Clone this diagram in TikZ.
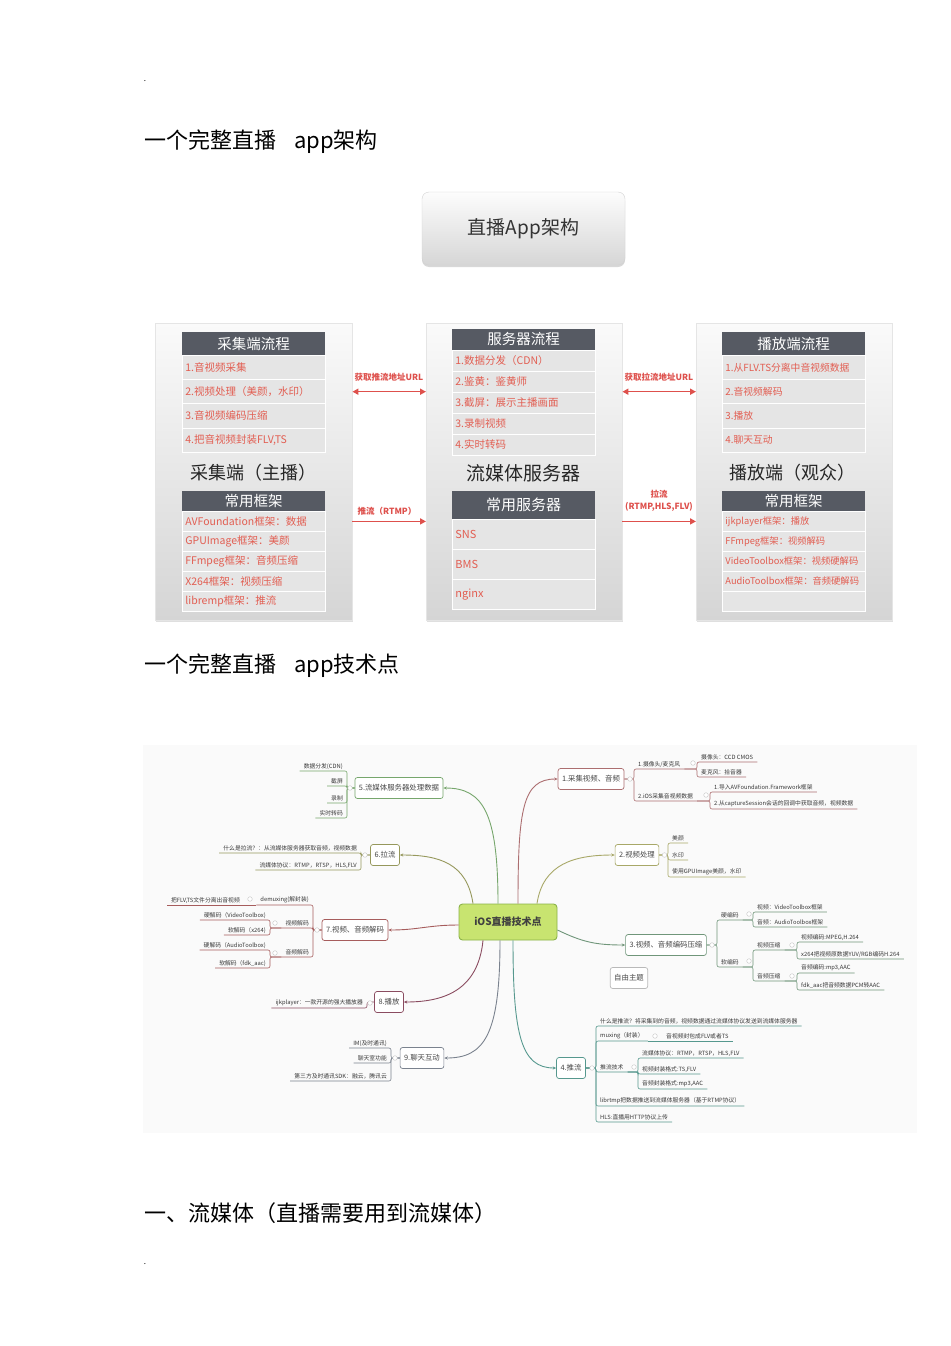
\documentclass[tikz,border=0pt]{standalone}
\usepackage{fontspec}
\setmainfont{Noto Sans CJK SC}
\usetikzlibrary{arrows.meta,calc,shadows}

\definecolor{hdrgray}{RGB}{86,90,99}
\definecolor{rowred}{RGB}{226,94,82}
\definecolor{arrred}{RGB}{222,80,76}
\definecolor{hubfill}{RGB}{200,228,112}
\definecolor{hubline}{RGB}{138,178,72}
\definecolor{cA}{RGB}{172,110,112}
\definecolor{cB}{RGB}{168,168,104}
\definecolor{cC}{RGB}{112,150,122}
\definecolor{cD}{RGB}{86,152,142}
\definecolor{cE}{RGB}{118,166,108}
\definecolor{cF}{RGB}{150,152,92}
\definecolor{cG}{RGB}{166,92,92}
\definecolor{cH}{RGB}{138,76,96}
\definecolor{cI}{RGB}{122,130,142}

\newcommand{\fsz}[1]{\fontsize{#1}{#1}\selectfont}
% rami sottolineati della mappa
\newcommand{\brR}[3]{\draw[#1,rounded corners=2pt] (#2) -- (#3.south west |- #2) -- (#3.south west) -- (#3.south east);}
\newcommand{\brL}[3]{\draw[#1,rounded corners=2pt] (#2) -- (#3.south east |- #2) -- (#3.south east) -- (#3.south west);}
\newcommand{\knob}[1]{\filldraw[draw=gray!45,fill=white,line width=0.4pt] (#1) circle (2.3);}

\tikzset{
  panel/.style={draw=gray!20, top color=gray!4, bottom color=gray!33, anchor=north west,
    drop shadow={opacity=0.25,shadow xshift=1pt,shadow yshift=-1.5pt}},
  hdr/.style={fill=hdrgray, text=white, font=\fsz{14.5}, anchor=north west, minimum width=143pt, inner sep=0pt},
  row/.style={fill=gray!20, draw=white, line width=0.8pt, text=rowred, anchor=north west,
    text width=137pt, align=left, inner xsep=3pt, inner ysep=0pt},
  biglab/.style={font=\fsz{18}, text=black!85},
  arrlab/.style={font=\fsz{8.5}\bfseries, text=arrred},
  redarr/.style={draw=arrred, line width=1.5pt},
  mbox/.style={draw=#1, fill=white, rounded corners=2.5pt, line width=0.7pt, font=\fsz{7.4},
    text=black!72, minimum height=21pt, inner xsep=4pt},
  leaf/.style={font=\fsz{5.8}, text=black!78, inner xsep=4pt, inner ysep=1.5pt},
  lr/.style={leaf, anchor=south west},
  ll/.style={leaf, anchor=south east},
  twig/.style={draw=#1, line width=0.6pt},
  limb/.style={draw=#1, line width=0.9pt, -{Stealth[length=3.5pt,width=3pt]}},
}

\begin{document}
\begin{tikzpicture}[x=1pt,y=-1pt]
  \fill[white] (0,0) rectangle (950,1346);
  \useasboundingbox (0,0) rectangle (950,1346);

  % titoli
  \node[font=\fsz{8}, inner sep=0pt] (dot1) at (145,81) {.};
  \node[anchor=west, font=\fsz{22}, inner sep=0pt] (h1) at (144,142) {一个完整直播\hspace{18pt}app架构};
  \node[draw=gray!35, rounded corners=7pt, top color=gray!2, bottom color=gray!32,
    minimum width=203pt, minimum height=73pt, font=\fsz{19}, text=black!80,
    drop shadow={opacity=0.3,shadow xshift=0pt,shadow yshift=-2pt}] (btn) at (523.5,228.5) {直播App架构};

  % colonna sinistra: acquisizione
  \node[panel, minimum width=197pt, minimum height=297pt] (pL) at (155,323) {};
  \node[hdr, minimum height=23pt] (Lh) at (182,332) {采集端流程};
  \foreach \t [count=\i] in {1.音视频采集, 2.视频处理（美颜，水印）, 3.音视频编码压缩, {4.把音视频封装FLV,TS}}
    \node[row, minimum height=24.2pt, font=\fsz{10.5}] (Lr\i) at (182,{355+(\i-1)*24.2}) {\t};
  \node[biglab] (Llab) at (253,473) {采集端（主播）};
  \node[hdr, minimum height=20pt] (Lk) at (182,491) {常用框架};
  \foreach \t [count=\i] in {AVFoundation框架：数据, GPUImage框架：美颜, FFmpeg框架：音频压缩, X264框架：视频压缩, libremp框架：推流}
    \node[row, minimum height=20pt, font=\fsz{10.5}] (Lf\i) at (182,{511+(\i-1)*20}) {\t};

  % colonna centrale: server
  \node[panel, minimum width=196pt, minimum height=297pt] (pM) at (426,323) {};
  \node[hdr, minimum height=20.5pt] (Mh) at (452,329) {服务器流程};
  \foreach \t [count=\i] in {1.数据分发（CDN）, 2.鉴黄：鉴黄师, 3.截屏：展示主播画面, 3.录制视频, 4.实时转码}
    \node[row, minimum height=21pt, font=\fsz{10.5}] (Mr\i) at (452,{350+(\i-1)*21}) {\t};
  \node[biglab, font=\fsz{19}] (Mlab) at (523,473) {流媒体服务器};
  \node[hdr, minimum height=28pt, font=\fsz{15}] (Mk) at (452,491) {常用服务器};
  \foreach \t [count=\i] in {SNS, BMS, nginx}
    \node[row, minimum height=30pt, font=\fsz{11}] (Ms\i) at (452,{519+(\i-1)*30}) {\t};

  % colonna destra: riproduzione
  \node[panel, minimum width=196pt, minimum height=297pt] (pR) at (696,323) {};
  \node[hdr, minimum height=23pt] (Rh) at (722,332) {播放端流程};
  \foreach \t [count=\i] in {1.从FLV.TS分离中音视频数据, 2.音视频解码, 3.播放, 4.聊天互动}
    \node[row, minimum height=24.2pt, font=\fsz{9.8}] (Rr\i) at (722,{355+(\i-1)*24.2}) {\t};
  \node[biglab] (Rlab) at (792,473) {播放端（观众）};
  \node[hdr, minimum height=20pt] (Rk) at (722,491) {常用框架};
  \foreach \t [count=\i] in {ijkplayer框架：播放, FFmpeg框架：视频解码, VideoToolbox框架：视频硬解码, AudioToolbox框架：音频硬解码}
    \node[row, minimum height=20pt, font=\fsz{9.3}] (Rf\i) at (722,{511+(\i-1)*20}) {\t};
  \node[row, minimum height=20pt] (Rf5) at (722,591) {};

  % frecce rosse
  \draw[redarr, {Triangle[length=6pt,width=6pt]}-{Triangle[length=6pt,width=6pt]}] (pL.east |- Lr2) -- (pM.west |- Lr2);
  \node[arrlab] (a1) at (389,377) {获取推流地址URL};
  \draw[redarr, -{Triangle[length=6pt,width=6pt]}] (pL.east |- Lf1) -- (pM.west |- Lf1);
  \node[arrlab] (a2) at (387,511) {推流（RTMP）};
  \draw[redarr, {Triangle[length=6pt,width=6pt]}-{Triangle[length=6pt,width=6pt]}] (pM.east |- Lr2) -- (pR.west |- Lr2);
  \node[arrlab] (a3) at (659,377) {获取拉流地址URL};
  \draw[redarr, -{Triangle[length=6pt,width=6pt]}] (pM.east |- Lf1) -- (pR.west |- Lf1);
  \node[arrlab, align=center, font=\fontsize{8.5}{12}\selectfont\bfseries] (a4) at (659,501) {拉流\\(RTMP,HLS,FLV)};

  % secondo titolo
  \node[anchor=west, font=\fsz{22}, inner sep=0pt] (h2) at (144,666) {一个完整直播\hspace{18pt}app技术点};

  % mappa mentale
  \fill[gray!4] (143,745) rectangle (917,1133);
  \node[draw=hubline, fill=hubfill, rounded corners=3.5pt, line width=0.9pt, minimum width=98pt,
    minimum height=36pt, font=\fsz{10}\bfseries, text=black!75] (hub) at (508,922) {iOS直播技术点};
  \node[mbox=cA] (n1) at (591,779) {1.采集视频、音频};
  \node[mbox=cB] (n2) at (637,855) {2.视频处理};
  \node[mbox=cC] (n3) at (666,945) {3.视频、音频编码压缩};
  \node[mbox=cD] (n4) at (571,1068) {4.推流};
  \node[mbox=cE] (n5) at (399,788) {5.流媒体服务器处理数据};
  \node[mbox=cF] (n6) at (385,855) {6.拉流};
  \node[mbox=cG] (n7) at (355,930) {7.视频、音频解码};
  \node[mbox=cH] (n8) at (389,1002) {8.播放};
  \node[mbox=cI] (n9) at (422,1058) {9.聊天互动};
  \node[mbox=gray!55] (nf) at (629,978) {自由主题};

  \draw[limb=cA] ($(hub.north)+(10,0)$) .. controls +(0,-95) and +(-35,0) .. (n1.west);
  \draw[limb=cB] ($(hub.north)+(29,0)$) .. controls +(6,-40) and +(-40,0) .. (n2.west);
  \draw[limb=cC] ($(hub.east)+(0,8)$) .. controls +(25,12) and +(-30,0) .. (n3.west);
  \draw[limb=cD] ($(hub.south)+(5,0)$) .. controls +(0,95) and +(-35,0) .. (n4.west);
  \draw[limb=cE] ($(hub.north)+(-10,0)$) .. controls +(0,-90) and +(40,0) .. (n5.east);
  \draw[limb=cF] ($(hub.north)+(-35,0)$) .. controls +(-6,-40) and +(40,0) .. (n6.east);
  \draw[limb=cG] ($(hub.west)+(0,3)$) .. controls +(-30,0) and +(30,0) .. (n7.east);
  \draw[limb=cH] ($(hub.south)+(-25,0)$) .. controls +(-5,50) and +(40,0) .. (n8.east);
  \draw[limb=cI] ($(hub.south)+(-8,0)$) .. controls +(0,95) and +(40,0) .. (n9.east);

  % 1 acquisizione
  \node[lr] (n11) at (634,769) {1.摄像头/麦克风};
  \node[lr] (n12) at (634,801) {2.iOS采集音视频数据};
  \node[lr] (n111) at (697,762) {摄像头：CCD CMOS};
  \node[lr] (n112) at (697,777) {麦克风：拾音器};
  \node[lr] (n121) at (710,792) {1.导入AVFoundation.Framework框架};
  \node[lr] (n122) at (710,809) {2.从captureSession会话的回调中获取音频，视频数据};
  \brR{twig=cA}{n1.east}{n11} \brR{twig=cA}{n1.east}{n12}
  \brR{twig=cA}{n11.south east}{n111} \brR{twig=cA}{n11.south east}{n112}
  \brR{twig=cA}{n12.south east}{n121} \brR{twig=cA}{n12.south east}{n122}
  \knob{630,779} \knob{693,763} \knob{706,795}

  % 2 elaborazione
  \node[lr] (n21) at (668,843) {美颜};
  \node[lr] (n22) at (668,860) {水印};
  \node[lr] (n23) at (668,877) {使用GPUImage美颜，水印};
  \brR{twig=cB}{n2.east}{n21} \brR{twig=cB}{n2.east}{n22} \brR{twig=cB}{n2.east}{n23}
  \knob{664.5,855}

  % 3 codifica
  \node[lr] (n31) at (717,920) {硬编码};
  \node[lr] (n311) at (753,912) {视频：VideoToolbox框架};
  \node[lr] (n312) at (753,927) {音频：AudioToolbox框架};
  \node[lr] (n32) at (717,967) {软编码};
  \node[lr] (n321) at (753,950) {视频压缩};
  \node[lr] (n3211) at (797,942) {视频编码:MPEG,H.264};
  \node[lr] (n3212) at (797,959) {x264把视频原数据YUV/RGB编码H.264};
  \node[lr] (n322) at (753,981) {音频压缩};
  \node[lr] (n3221) at (797,973) {音频编码:mp3,AAC};
  \node[lr] (n3222) at (797,990) {fdk\_aac把音频数据PCM转AAC};
  \brR{twig=cC}{n3.east}{n31} \brR{twig=cC}{n3.east}{n32}
  \brR{twig=cC}{n31.south east}{n311} \brR{twig=cC}{n31.south east}{n312}
  \brR{twig=cC}{n32.south east}{n321} \brR{twig=cC}{n32.south east}{n322}
  \brR{twig=cC}{n321.south east}{n3211} \brR{twig=cC}{n321.south east}{n3212}
  \brR{twig=cC}{n322.south east}{n3221} \brR{twig=cC}{n322.south east}{n3222}
  \knob{712,945} \knob{749,914} \knob{749,961} \knob{792,945} \knob{792,976}

  % 4 invio
  \node[lr] (n41) at (596,1026) {什么是推流？将采集到的音频，视频数据通过流媒体协议发送到流媒体服务器};
  \node[lr] (n42) at (596,1041) {muxing（封装）};
  \node[lr] (n421) at (662,1041) {音视频封包成FLV或者TS};
  \node[lr] (n43) at (596,1072) {推流技术};
  \node[lr] (n431) at (638,1058) {流媒体协议：RTMP，RTSP，HLS,FLV};
  \node[lr] (n432) at (638,1074) {视频封装格式:TS,FLV};
  \node[lr] (n433) at (638,1089) {音频封装格式:mp3,AAC};
  \node[lr] (n44) at (596,1106) {librtmp把数据推送到流媒体服务器（基于RTMP协议）};
  \node[lr] (n45) at (596,1122) {HLS:直播用HTTP协议上传};
  \brR{twig=cD}{n4.east}{n41} \brR{twig=cD}{n4.east}{n42} \brR{twig=cD}{n4.east}{n43}
  \brR{twig=cD}{n4.east}{n44} \brR{twig=cD}{n4.east}{n45}
  \draw[twig=cD] (n42.south east) -- (n421.south east);
  \brR{twig=cD}{n43.south east}{n431} \brR{twig=cD}{n43.south east}{n432} \brR{twig=cD}{n43.south east}{n433}
  \knob{592,1068} \knob{655,1036} \knob{634,1067}

  % 5 server
  \node[ll] (n51) at (347,771) {数据分发(CDN)};
  \node[ll] (n52) at (347,786) {截屏};
  \node[ll] (n53) at (347,803) {录制};
  \node[ll] (n54) at (347,818) {实时转码};
  \brL{twig=cE}{n5.west}{n51} \brL{twig=cE}{n5.west}{n52} \brL{twig=cE}{n5.west}{n53} \brL{twig=cE}{n5.west}{n54}
  \knob{350,788}

  % 6 pull
  \node[ll] (n61) at (361,853) {什么是拉流？：从流媒体服务器获取音频，视频数据};
  \node[ll] (n62) at (361,870) {流媒体协议：RTMP，RTSP，HLS,FLV};
  \brL{twig=cF}{n6.west}{n61} \brL{twig=cF}{n6.west}{n62}
  \knob{365,855}

  % 7 decodifica
  \node[ll] (n71) at (313,905) {demuxing(解封装)};
  \node[ll] (n711) at (244,905) {把FLV,TS文件分离出音视频};
  \node[ll] (n72) at (313,928) {视频解码};
  \node[ll] (n721) at (270,920) {硬解码（VideoToolbox)};
  \node[ll] (n722) at (270,935) {软解码（x264)};
  \node[ll] (n73) at (313,957) {音频解码};
  \node[ll] (n731) at (270,950) {硬解码（AudioToolbox)};
  \node[ll] (n732) at (270,968) {软解码（fdk\_aac)};
  \brL{twig=cG}{n7.west}{n71} \brL{twig=cG}{n7.west}{n72} \brL{twig=cG}{n7.west}{n73}
  \draw[twig=cG] (n71.south west) -- (n711.south west);
  \brL{twig=cG}{n72.south west}{n721} \brL{twig=cG}{n72.south west}{n722}
  \brL{twig=cG}{n73.south west}{n731} \brL{twig=cG}{n73.south west}{n732}
  \knob{317,930} \knob{250,899} \knob{275,923} \knob{275,953}

  % 8 riproduzione
  \node[ll] (n81) at (367,1008) {ijkplayer：一款开源的强大播放器};
  \brL{twig=cH}{n8.west}{n81}
  \knob{370,1003}

  % 9 chat
  \node[ll] (n91) at (391,1048) {IM(及时通讯)};
  \node[ll] (n92) at (391,1063) {聊天室功能};
  \node[ll] (n93) at (391,1081) {第三方及时通讯SDK：融云，腾讯云};
  \brL{twig=cI}{n9.west}{n91} \brL{twig=cI}{n9.west}{n92} \brL{twig=cI}{n9.west}{n93}
  \knob{395,1058}

  % ultimo titolo
  \node[anchor=west, font=\fsz{22}, inner sep=0pt] (h3) at (144,1213) {一、流媒体（直播需要用到流媒体）};
  \node[font=\fsz{8}, inner sep=0pt] (dot2) at (145,1264) {.};
\end{tikzpicture}
\end{document}
